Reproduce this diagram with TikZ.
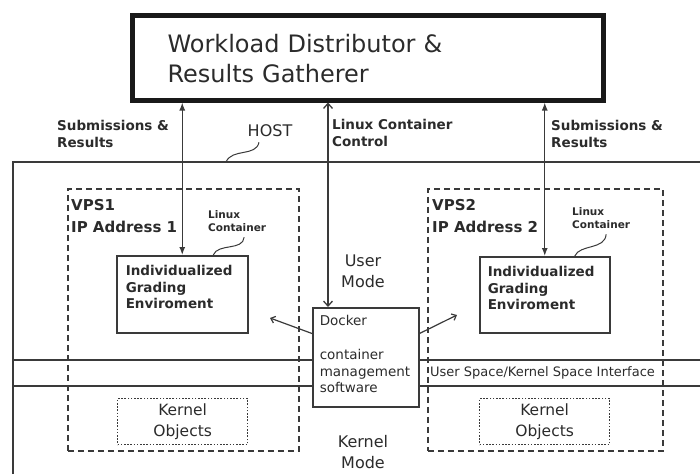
\documentclass[tikz,border=0pt]{standalone}
\usepackage{fontspec}
\setmainfont{DejaVu Sans}
\usepackage{tikz}
\usetikzlibrary{arrows.meta}
\usetikzlibrary{positioning}

\definecolor{ink}{HTML}{2B2B2B}
\definecolor{wire}{HTML}{3A3A3A}

\tikzset{
  boxed/.style={draw=wire, line width=1.5pt, inner ysep=0pt, align=left},
  vpsbox/.style={draw=wire, line width=1.5pt, dash pattern=on 6pt off 4pt, inner sep=0pt},
  kobj/.style={draw=wire, line width=1.3pt, dash pattern=on 1.6pt off 1.6pt, inner sep=0pt,
    minimum width=130pt, minimum height=46pt, align=center, font=\fontsize{15.5}{21}\selectfont},
  tag/.style={inner sep=0pt, align=left, font=\bfseries\fontsize{13.5}{17}\selectfont},
  lxc/.style={inner sep=0pt, align=left, font=\bfseries\fontsize{10.5}{13}\selectfont},
  vpslbl/.style={inner sep=0pt, align=left, font=\bfseries\fontsize{15}{22}\selectfont},
  mode/.style={inner sep=0pt, align=center, font=\fontsize{16}{21}\selectfont},
  feed/.style={draw=wire, line width=1.3pt, {Latex[length=8pt,width=6pt]}-{Latex[length=8pt,width=6pt]}},
  ctl/.style={draw=wire, line width=1.3pt, {Straight Barb[length=5pt,width=9pt]}-{Straight Barb[length=5pt,width=9pt]}},
  ptr/.style={draw=wire, line width=1.2pt, -{Straight Barb[length=4pt,width=7pt]}},
  squig/.style={draw=wire, line width=1pt},
  frame/.style={draw=wire, line width=1.8pt},
  iface/.style={draw=wire, line width=1.3pt}
}

\begin{document}
\begin{tikzpicture}[x=1pt, y=-1pt, text=ink]
  \useasboundingbox (0,0) rectangle (700,474);

  % distributor at the top
  \node [draw=black!90, line width=5pt, anchor=north west, inner xsep=35.5pt, inner ysep=0pt,
    text width=400pt, text height=37.5pt, text depth=47.5pt, align=left,
    font=\fontsize{24}{30}\selectfont] (dist) at (129.5,12.5) {Workload Distributor \&\\Results Gatherer};

  % host frame
  \coordinate (hostnw) at (13,162);
  \coordinate (hostsw) at (13,474);
  \coordinate (hostne) at (700,162);
  \coordinate (hosttick) at (226,162);
  \draw [frame] (hostsw) -- (hostnw) -- (hostne);
  \node [inner sep=0pt, font=\fontsize{16}{19}\selectfont] (host) at (270,131) {HOST};
  \draw [squig] ([shift={(-11pt,-5pt)}]host.south) .. controls (256,157) and (232,148) .. (hosttick);

  % virtual private servers
  \node [vpsbox, anchor=north west, minimum width=231pt, minimum height=262pt] (vps1) at (67,188) {};
  \node [vpsbox, anchor=north west, minimum width=235pt, minimum height=262pt] (vps2) at (427,188) {};
  \node [vpslbl, anchor=west] (vps1lbl) at (71,216) {VPS1\\IP Address 1};
  \node [vpslbl, anchor=west] (vps2lbl) at (432,216) {VPS2\\IP Address 2};

  % grading environments
  \node [boxed, anchor=north west, inner xsep=9pt, text width=113pt, text height=20pt, text depth=57pt,
    font=\bfseries\fontsize{13.5}{16.5}\selectfont] (ige1) at (116,255) {Individualized\\Grading\\Enviroment};
  \node [boxed, anchor=north west, inner xsep=8pt, text width=114pt, text height=20pt, text depth=56pt,
    font=\bfseries\fontsize{13.5}{16.5}\selectfont] (ige2) at (479,256) {Individualized\\Grading\\Enviroment};

  \node [lxc, anchor=west] (lxc1) at (208,221.5) {Linux\\Container};
  \node [lxc, anchor=west] (lxc2) at (572,218.5) {Linux\\Container};
  \draw [squig] ([shift={(7pt,-5pt)}]lxc1.south) .. controls (243,251) and (218,243) .. ([xshift=31pt]ige1.north);
  \draw [squig] ([shift={(5pt,-5pt)}]lxc2.south) .. controls (605,250) and (580,244) .. ([xshift=30pt]ige2.north);

  % docker
  \node [boxed, anchor=north west, inner xsep=7pt, text width=92pt, text height=18pt, text depth=81pt,
    font=\fontsize{13.5}{16.8}\selectfont] (docker) at (312,307) {Docker\\[16.8pt]container\\management\\software};
  \coordinate (docktop) at ([xshift=16pt]docker.north west);

  % kernel objects
  \node [kobj, anchor=north west] (ko1) at (117,398) {Kernel\\Objects};
  \node [kobj, anchor=north west] (ko2) at (479,398) {Kernel\\Objects};

  % user space / kernel space interface
  \coordinate (ifA) at (13,360);
  \coordinate (ifB) at (700,360);
  \coordinate (ifC) at (13,386);
  \coordinate (ifD) at (700,386);
  \draw [iface] (ifA) -- (ifA -| docker.west);
  \draw [iface] (docker.east |- ifB) -- (ifB);
  \draw [iface] (ifC) -- (ifC -| docker.west);
  \draw [iface] (docker.east |- ifD) -- (ifD);
  \node [anchor=west, inner sep=0pt, font=\fontsize{13}{15}\selectfont] (iflbl) at (430,373) {User Space/Kernel Space Interface};

  \node [mode] (umode) at (363,271.5) {User\\Mode};
  \node [mode] (kmode) at (363,452.5) {Kernel\\Mode};

  % connections to the distributor
  \draw [feed] (dist.south -| ige1.north) -- (ige1.north);
  \draw [feed] (dist.south -| ige2.north) -- (ige2.north);
  \draw [ctl] (dist.south -| docktop) -- (docktop);
  \node [tag, anchor=west] (sub1) at (57,133.5) {Submissions \&\\Results};
  \node [tag, anchor=west] (ctllbl) at (332,132.5) {Linux Container\\Control};
  \node [tag, anchor=west] (sub2) at (551,133.5) {Submissions \&\\Results};

  % docker to the containers
  \coordinate (toige1) at (270,318);
  \coordinate (toige2) at (457,315);
  \draw [ptr] (docker.west |- ige1.south) -- (toige1);
  \draw [ptr] (docker.east |- ige2.south) -- (toige2);
\end{tikzpicture}
\end{document}
